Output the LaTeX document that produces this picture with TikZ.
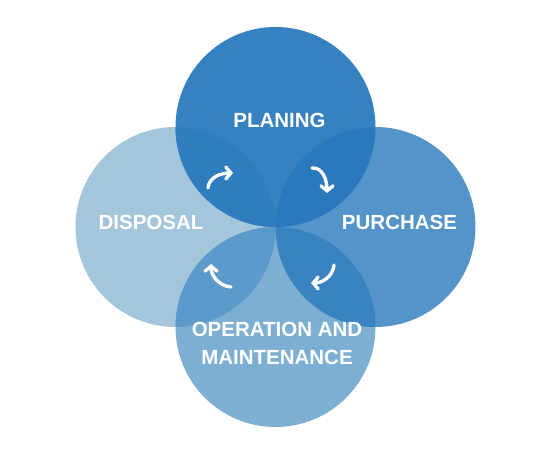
\documentclass[tikz,border=0pt]{standalone}
\usepackage{fontspec}
\setmainfont{Liberation Sans}
\usetikzlibrary{arrows.meta}
\definecolor{cTop}{RGB}{54,130,192}
\definecolor{cRight}{RGB}{84,148,200}
\definecolor{cBottom}{RGB}{125,175,210}
\definecolor{cLeft}{RGB}{164,198,218}
\definecolor{cTL}{RGB}{47,124,191}
\definecolor{cTR}{RGB}{43,121,189}
\definecolor{cRB}{RGB}{58,131,193}
\definecolor{cLB}{RGB}{91,154,202}
\tikzset{
  ring/.style={circle, minimum size=200pt, inner sep=0pt, draw=none},
  lbl/.style={text=white, font=\fontsize{20.5}{28}\selectfont\bfseries, align=center},
  cyc/.style={draw=white, line width=3.3pt, line cap=round, -{Straight Barb[length=5pt,width=12pt,line cap=round]}}
}
\begin{document}
\begin{tikzpicture}[x=1pt,y=1pt]
\useasboundingbox (0,0) rectangle (549,-454);
\node[ring, fill=cLeft] (left) at (175.5,-227) {};
\node[ring, fill=cBottom] (bottom) at (275.5,-327) {};
\node[ring, fill=cRight] (right) at (375.5,-227) {};
\node[ring, fill=cTop] (top) at (275.5,-127) {};
% lens overlaps
\begin{scope}
  \clip (275.5,-127) circle (100pt);
  \fill[cTL] (175.5,-227) circle (100pt);
  \fill[cTR] (375.5,-227) circle (100pt);
\end{scope}
\begin{scope}
  \clip (275.5,-327) circle (100pt);
  \fill[cLB] (175.5,-227) circle (100pt);
  \fill[cRB] (375.5,-227) circle (100pt);
\end{scope}
% labels
\node[lbl] (tPlan) at (279.5,-120) {PLANING};
\node[lbl] (tDisp) at (151,-222) {DISPOSAL};
\node[lbl] (tPurch) at (399.5,-222) {PURCHASE};
\node[lbl] (tOp) at (277,-343) {OPERATION AND\\MAINTENANCE};
% arrows
\coordinate (a1s) at (208,-188);
\coordinate (a1e) at (233,-173);
\coordinate (a2s) at (312,-168);
\coordinate (a2e) at (327,-193);
\coordinate (a3s) at (334,-265);
\coordinate (a3e) at (311,-283);
\coordinate (a4s) at (231,-287);
\coordinate (a4e) at (211,-264);
\draw[cyc] (a1s) to[out=85,in=180] (a1e);
\draw[cyc] (a2s) to[out=5,in=90] (a2e);
\draw[cyc] (a3s) to[out=-95,in=0] (a3e);
\draw[cyc] (a4s) to[out=175,in=-90] (a4e);
\end{tikzpicture}
\end{document}
